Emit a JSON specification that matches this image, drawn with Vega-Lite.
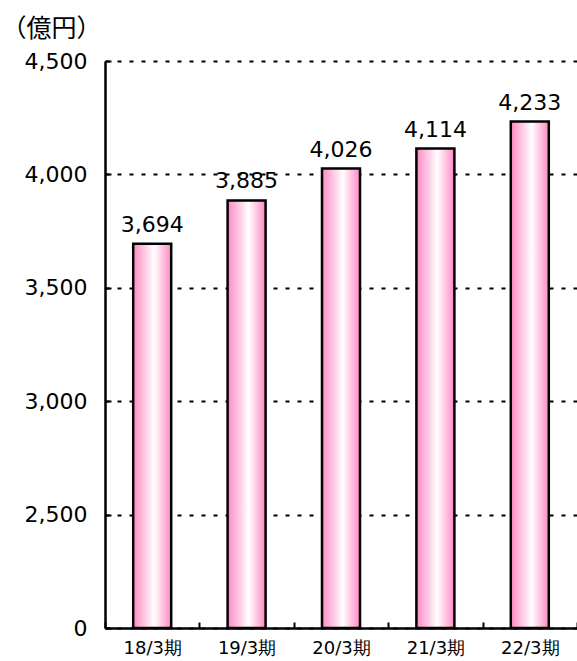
{
  "$schema": "https://vega.github.io/schema/vega-lite/v6.json",
  "width": 472,
  "height": 567,
  "autosize": "none",
  "padding": {"left": 105, "top": 61, "right": 0, "bottom": 33},
  "background": "white",
  "config": {"view": {"stroke": null}, "font": "DejaVu Sans"},
  "data": {"values": [
    {"period": "18/3期", "value": 3694},
    {"period": "19/3期", "value": 3885},
    {"period": "20/3期", "value": 4026},
    {"period": "21/3期", "value": 4114},
    {"period": "22/3期", "value": 4233}
  ]},
  "encoding": {
    "x": {"field": "period", "type": "nominal", "sort": null,
      "scale": {"paddingInner": 0, "paddingOuter": 0},
      "axis": {"title": null, "labelAngle": 0, "labelFont": "DejaVu Sans", "labelFontSize": 18, "labelColor": "#000", "labelPadding": 26, "labelBaseline": "middle",
        "domainColor": "#000", "domainWidth": 2.5, "tickBand": "extent", "tickColor": "#000", "tickWidth": 2, "tickSize": -6, "grid": false}}
  },
  "layer": [
    {
      "mark": {"type": "bar", "size": 38, "stroke": "#000", "strokeWidth": 2.5,
        "color": {"gradient": "linear", "x1": 0, "x2": 1, "y1": 0, "y2": 0,
          "stops": [{"offset": 0, "color": "#ff88c4"}, {"offset": 0.55, "color": "#ffffff"}, {"offset": 1, "color": "#ff88c4"}]}},
      "encoding": {
        "y": {"field": "value", "type": "quantitative",
          "scale": {"domain": [2000, 4500], "zero": false, "nice": false},
          "axis": {"title": "（億円）", "titleFont": "Noto Sans CJK JP", "titleAngle": 0, "titleAlign": "left", "titleBaseline": "middle", "titleX": -104, "titleY": -33,
            "titleFontSize": 25, "titleFontWeight": "normal", "titleColor": "#000",
            "values": [2000, 2500, 3000, 3500, 4000, 4500],
            "labelExpr": "datum.value == 2000 ? '0' : format(datum.value, ',')",
            "labelFont": "DejaVu Sans", "labelFontSize": 22, "labelColor": "#000", "labelPadding": 24,
            "domainColor": "#000", "domainWidth": 2.5, "tickColor": "#000", "tickWidth": 2, "tickSize": -6,
            "grid": true, "gridColor": "#000", "gridWidth": 2, "gridDash": [4, 8]}},
        "y2": {"datum": 2000}
      }
    },
    {
      "mark": {"type": "text", "font": "DejaVu Sans", "fontSize": 22, "dy": -12, "baseline": "alphabetic", "color": "#000"},
      "encoding": {
        "y": {"field": "value", "type": "quantitative"},
        "text": {"field": "value", "type": "quantitative", "format": ","}
      }
    }
  ]
}
